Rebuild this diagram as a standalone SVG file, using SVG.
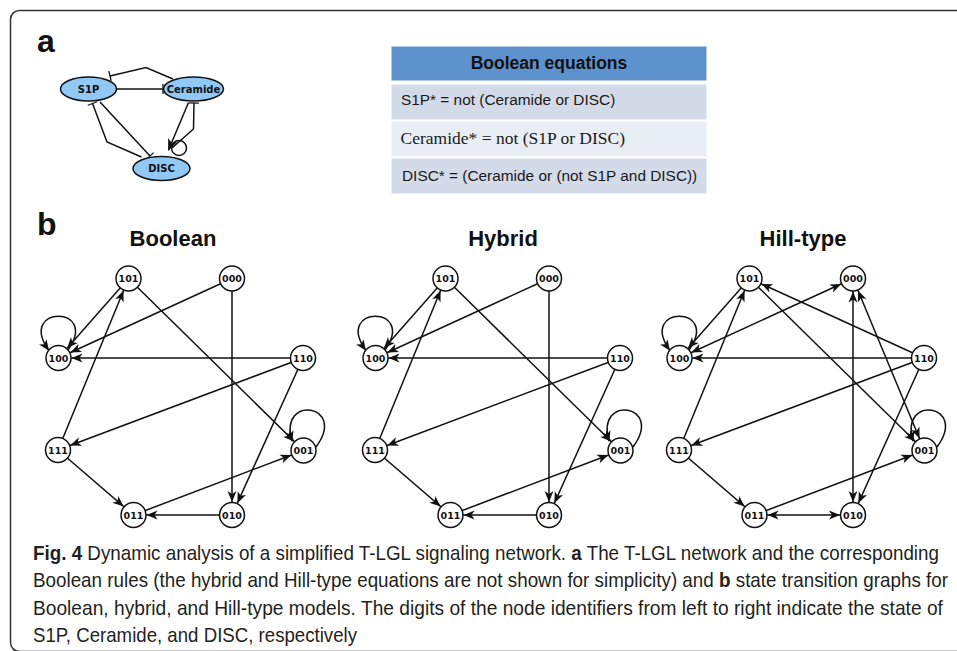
<svg xmlns="http://www.w3.org/2000/svg" width="957" height="651" viewBox="0 0 957 651">
<style>
.frame{fill:none;stroke:#333;stroke-width:1.5}
.lbl{font-family:"Liberation Sans",Arial,sans-serif;font-weight:bold;font-size:32px;fill:#111}
.title{font-family:"Liberation Sans",Arial,sans-serif;font-weight:bold;font-size:22px;fill:#111;text-anchor:middle}
.st circle{fill:#fff;stroke:#111;stroke-width:1.5}
.st text{font-family:"DejaVu Sans",sans-serif;font-weight:bold;font-size:9.5px;fill:#111;text-anchor:middle}
.e{fill:none;stroke:#111;stroke-width:1.5}
.ea{marker-end:url(#arr)}
.eb{marker-start:url(#arr);marker-end:url(#arr)}
.el{marker-end:url(#arrL)}
.pn ellipse{fill:#92c8f6;stroke:#111;stroke-width:1.5}
.pn text{font-family:"DejaVu Sans",sans-serif;font-weight:bold;font-size:10px;fill:#111;text-anchor:middle}
.ae{fill:none;stroke:#111;stroke-width:1.5}
.tee{marker-end:url(#tee)}
.eqs{font-family:"Liberation Sans",Arial,sans-serif;font-size:15.4px;fill:#1a1a1a}
.eqt{font-family:"Liberation Serif","Times New Roman",serif;font-size:17.5px;fill:#1a1a1a}
.cap{font-family:"Liberation Sans",Arial,sans-serif;font-size:20px;fill:#231f20}
</style>
<defs>
<marker id="arr" markerUnits="userSpaceOnUse" orient="auto-start-reverse" refX="24" refY="0" markerWidth="12" markerHeight="10" overflow="visible">
<path d="M0,-4.5 L11,0 L0,4.5 L3,0 z" fill="#111"/>
</marker>
<marker id="arrL" markerUnits="userSpaceOnUse" orient="auto" refX="10" refY="0" markerWidth="12" markerHeight="10" overflow="visible">
<path d="M0,-4.5 L11,0 L0,4.5 L3,0 z" fill="#111"/>
</marker>
<marker id="arrA" markerUnits="userSpaceOnUse" orient="auto" refX="11" refY="0" markerWidth="12" markerHeight="12" overflow="visible">
<path d="M0,-5 L12,0 L0,5 L3,0 z" fill="#111"/>
</marker>
<marker id="tee" markerUnits="userSpaceOnUse" orient="auto" refX="0" refY="0" markerWidth="2" markerHeight="12" overflow="visible">
<path d="M0,-5 L0,5" stroke="#111" stroke-width="1.3"/>
</marker>
</defs>

<rect class="frame" x="10.5" y="10.5" width="980" height="641" rx="9"/>

<text class="lbl" x="37" y="52">a</text>
<text class="lbl" x="37" y="235">b</text>

<g id="connectors">
<g id="net-edges">
<path class="ae tee" d="M117,89 L163,89"/>
<path class="ae tee" d="M173,79 L146,67.5 L110,76"/>
<path class="ae tee" d="M100,102 L150,156"/>
<path class="ae tee" d="M141.5,157 L107,142 L92.5,103.5"/>
<path class="ae" style="marker-end:url(#arrA)" d="M188.5,102.5 L168.5,150"/>
<path class="ae tee" d="M172,148 L193.5,129 L194,103"/>
<circle class="ae" cx="179" cy="148" r="7.5"/>
</g>

<g id="bool-edges">
<path class="e ea" d="M128.5,278.5 L58.5,358"/>
<path class="e ea" d="M232,278.5 L58.5,358"/>
<path class="e ea" d="M303,358 L58.5,358"/>
<path class="e ea" d="M58,450 L128.5,278.5"/>
<path class="e ea" d="M128.5,278.5 L303.5,450.5"/>
<path class="e ea" d="M232,278.5 L232,515"/>
<path class="e ea" d="M303,358 L58,450"/>
<path class="e ea" d="M303,358 L232,515"/>
<path class="e ea" d="M58,450 L133.5,515"/>
<path class="e ea" d="M232,515 L133.5,515"/>
<path class="e ea" d="M133.5,515 L303.5,450.5"/>
<path class="e el" d="M68,350 C100,305 17,305 48.5,350"/>
<path class="e el" d="M316,447 C348,404 278,394 292,441"/>
</g>

<g id="hyb-edges" transform="translate(317,0)">
<path class="e ea" d="M128.5,278.5 L58.5,358"/>
<path class="e ea" d="M232,278.5 L58.5,358"/>
<path class="e ea" d="M303,358 L58.5,358"/>
<path class="e ea" d="M58,450 L128.5,278.5"/>
<path class="e ea" d="M128.5,278.5 L303.5,450.5"/>
<path class="e ea" d="M232,278.5 L232,515"/>
<path class="e ea" d="M303,358 L58,450"/>
<path class="e ea" d="M303,358 L232,515"/>
<path class="e ea" d="M58,450 L133.5,515"/>
<path class="e ea" d="M232,515 L133.5,515"/>
<path class="e ea" d="M133.5,515 L303.5,450.5"/>
<path class="e el" d="M68,350 C100,305 17,305 48.5,350"/>
<path class="e el" d="M316,447 C348,404 278,394 292,441"/>
</g>

<g id="hill-edges" transform="translate(621,0)">
<path class="e ea" d="M128.5,278.5 L58.5,358"/>
<path class="e eb" d="M232,278.5 L58.5,358"/>
<path class="e ea" d="M303,358 L58.5,358"/>
<path class="e ea" d="M303,358 L128.5,278.5"/>
<path class="e ea" d="M58,450 L128.5,278.5"/>
<path class="e ea" d="M128.5,278.5 L303.5,450.5"/>
<path class="e eb" d="M232,278.5 L232,515"/>
<path class="e eb" d="M232,278.5 L303.5,450.5"/>
<path class="e ea" d="M303,358 L58,450"/>
<path class="e ea" d="M303,358 L232,515"/>
<path class="e ea" d="M58,450 L133.5,515"/>
<path class="e eb" d="M232,515 L133.5,515"/>
<path class="e ea" d="M133.5,515 L303.5,450.5"/>
<path class="e el" d="M68,350 C100,305 17,305 48.5,350"/>
<path class="e el" d="M316,447 C348,404 278,394 292,441"/>
</g>
</g>

<g class="pn">
<g id="S1P"><ellipse cx="88.5" cy="89" rx="28" ry="12"/><text x="88.5" y="92.5">S1P</text></g>
<g id="Ceramide"><ellipse cx="193.5" cy="89" rx="30" ry="12"/><text x="193.5" y="92.5">Ceramide</text></g>
<g id="DISC"><ellipse cx="161.5" cy="168.5" rx="28.5" ry="12"/><text x="161.5" y="172">DISC</text></g>
</g>

<g id="equations">
<rect x="391.5" y="46.5" width="315" height="34" fill="#5e92cc"/>
<text x="549" y="69" style="font-family:'Liberation Sans',Arial,sans-serif;font-weight:bold;font-size:17.5px;fill:#111;text-anchor:middle">Boolean equations</text>
<rect x="391.5" y="84.5" width="315" height="35" fill="#d3dbe9"/>
<text class="eqs" x="401" y="105">S1P* = not (Ceramide or DISC)</text>
<rect x="391.5" y="121.5" width="315" height="35" fill="#e9edf4"/>
<text class="eqt" x="400.5" y="143.5">Ceramide* = not (S1P or DISC)</text>
<rect x="391.5" y="158.5" width="315" height="35" fill="#d3dbe9"/>
<text class="eqs" x="402" y="180.5">DISC* = (Ceramide or (not S1P and DISC))</text>
</g>

<text class="title" x="173" y="246">Boolean</text>
<text class="title" x="503" y="246">Hybrid</text>
<text class="title" x="803" y="246">Hill-type</text>

<g class="st">
<g id="bool-101"><circle cx="128.5" cy="278.5" r="12.5"/><text x="128.5" y="282">101</text></g>
<g id="bool-000"><circle cx="232" cy="278.5" r="12.5"/><text x="232" y="282">000</text></g>
<g id="bool-100"><circle cx="58.5" cy="358" r="12.5"/><text x="58.5" y="361.5">100</text></g>
<g id="bool-110"><circle cx="303" cy="358" r="12.5"/><text x="303" y="361.5">110</text></g>
<g id="bool-111"><circle cx="58" cy="450" r="12.5"/><text x="58" y="453.5">111</text></g>
<g id="bool-001"><circle cx="303.5" cy="450.5" r="12.5"/><text x="303.5" y="454">001</text></g>
<g id="bool-011"><circle cx="133.5" cy="515" r="12.5"/><text x="133.5" y="518.5">011</text></g>
<g id="bool-010"><circle cx="232" cy="515" r="12.5"/><text x="232" y="518.5">010</text></g>
</g>

<g class="st" transform="translate(317,0)">
<g id="hyb-101"><circle cx="128.5" cy="278.5" r="12.5"/><text x="128.5" y="282">101</text></g>
<g id="hyb-000"><circle cx="232" cy="278.5" r="12.5"/><text x="232" y="282">000</text></g>
<g id="hyb-100"><circle cx="58.5" cy="358" r="12.5"/><text x="58.5" y="361.5">100</text></g>
<g id="hyb-110"><circle cx="303" cy="358" r="12.5"/><text x="303" y="361.5">110</text></g>
<g id="hyb-111"><circle cx="58" cy="450" r="12.5"/><text x="58" y="453.5">111</text></g>
<g id="hyb-001"><circle cx="303.5" cy="450.5" r="12.5"/><text x="303.5" y="454">001</text></g>
<g id="hyb-011"><circle cx="133.5" cy="515" r="12.5"/><text x="133.5" y="518.5">011</text></g>
<g id="hyb-010"><circle cx="232" cy="515" r="12.5"/><text x="232" y="518.5">010</text></g>
</g>

<g class="st" transform="translate(621,0)">
<g id="hill-101"><circle cx="128.5" cy="278.5" r="12.5"/><text x="128.5" y="282">101</text></g>
<g id="hill-000"><circle cx="232" cy="278.5" r="12.5"/><text x="232" y="282">000</text></g>
<g id="hill-100"><circle cx="58.5" cy="358" r="12.5"/><text x="58.5" y="361.5">100</text></g>
<g id="hill-110"><circle cx="303" cy="358" r="12.5"/><text x="303" y="361.5">110</text></g>
<g id="hill-111"><circle cx="58" cy="450" r="12.5"/><text x="58" y="453.5">111</text></g>
<g id="hill-001"><circle cx="303.5" cy="450.5" r="12.5"/><text x="303.5" y="454">001</text></g>
<g id="hill-011"><circle cx="133.5" cy="515" r="12.5"/><text x="133.5" y="518.5">011</text></g>
<g id="hill-010"><circle cx="232" cy="515" r="12.5"/><text x="232" y="518.5">010</text></g>
</g>

<g id="caption" transform="scale(0.88,1)">
<text class="cap" x="37.5" y="560" textLength="1029.5" lengthAdjust="spacingAndGlyphs"><tspan font-weight="bold">Fig. 4</tspan> Dynamic analysis of a simplified T-LGL signaling network. <tspan font-weight="bold">a</tspan> The T-LGL network and the corresponding</text>
<text class="cap" x="37.5" y="587.5" textLength="1039.8" lengthAdjust="spacingAndGlyphs">Boolean rules (the hybrid and Hill-type equations are not shown for simplicity) and <tspan font-weight="bold">b</tspan> state transition graphs for</text>
<text class="cap" x="37.5" y="615" textLength="1034" lengthAdjust="spacingAndGlyphs">Boolean, hybrid, and Hill-type models. The digits of the node identifiers from left to right indicate the state of</text>
<text class="cap" x="37.5" y="642" textLength="368.2" lengthAdjust="spacingAndGlyphs">S1P, Ceramide, and DISC, respectively</text>
</g>
</svg>
